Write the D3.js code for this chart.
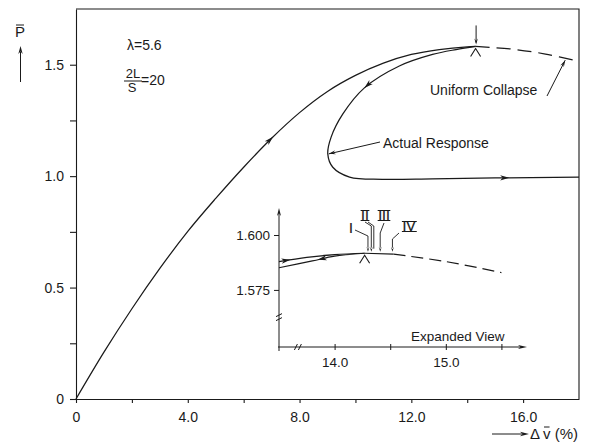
<!DOCTYPE html>
<html>
<head>
<meta charset="utf-8">
<script src="https://cdn.jsdelivr.net/npm/d3@7"></script>
<style>
  body { margin: 0; background: #fff; }
  svg { display: block; }
  text { font-family: "Liberation Sans", Arial, sans-serif; fill: #1a1a1a; }
</style>
</head>
<body>
<svg width="591" height="446"></svg>
<script>
const svg = d3.select('svg');
const width = +svg.attr('width');
const height = +svg.attr('height');
const ink = '#1a1a1a';

// loading branch, origin -> peak
const loadX = [0, 1, 2, 3, 4, 5, 6, 7, 8, 9, 10, 11, 12, 13, 14, 14.3];
const loadY = [0, 0.21, 0.405, 0.586, 0.752, 0.9, 1.04, 1.17, 1.285, 1.38, 1.452, 1.507, 1.546, 1.568, 1.580, 1.582];

// actual response after the peak
const unloadX = [14.3, 13.6, 12.76, 11.57, 10.32, 9.55, 9.13, 9.01, 9.19, 9.79, 10.96, 12.75, 15.0, 18.0];
const unloadY = [1.582, 1.568, 1.546, 1.494, 1.396, 1.279, 1.175, 1.100, 1.040, 0.996, 0.986, 0.988, 0.992, 0.996];

// uniform collapse (dashed)
const collapseX = [14.3, 15.6, 16.8, 18.0];
const collapseY = [1.582, 1.570, 1.548, 1.515];

const xTicks = [0, 2, 4, 6, 8, 10, 12, 14, 16];
const xTickLabels = ['0', '', '4.0', '', '8.0', '', '12.0', '', '16.0'];
const yTicks = [0, 0.25, 0.5, 0.75, 1.0, 1.25, 1.5];
const yTickLabels = ['0', '', '0.5', '', '1.0', '', '1.5'];

// expanded view
const insetLoadX = [13.5, 13.75, 14.0, 14.27];
const insetLoadY = [1.5879, 1.5898, 1.5911, 1.5917];
const insetUnloadX = [14.27, 14.0, 13.8, 13.5];
const insetUnloadY = [1.5917, 1.5904, 1.5882, 1.5851];
const insetFlatX = [14.27, 14.53];
const insetFlatY = [1.5917, 1.5913];
const insetCollapseX = [14.53, 15.0, 15.5];
const insetCollapseY = [1.5913, 1.5879, 1.5829];
const insetXTicks = [14.0, 14.5, 15.0, 15.5];
const insetXTickLabels = ['14.0', '', '15.0', ''];
const insetYTicks = [1.575, 1.600];
const insetYTickLabels = ['1.575', '1.600'];
const stageNames = ['I', 'II', 'III', 'IV'];
const stageX = [14.30, 14.33, 14.41, 14.52];

const zip = (xs, ys) => xs.map((x, i) => [x, ys[i]]);

const margin = { top: 9, right: 12, bottom: 47, left: 76 };
const innerWidth = width - margin.left - margin.right;
const innerHeight = height - margin.top - margin.bottom;

const xScale = d3.scaleLinear().domain([0, 18]).range([margin.left, margin.left + innerWidth]);
const yScale = d3.scaleLinear().domain([0, 1.75]).range([margin.top + innerHeight, margin.top]);

const head = (g, x, y, ang, len = 9, half = 2.6) =>
  g.append('path')
    .attr('d', `M0,0L${-len},${-half}L${-len + 2.5},0L${-len},${half}Z`)
    .attr('transform', `translate(${x},${y}) rotate(${ang})`)
    .attr('fill', ink);

// nearest point on a path to a target pixel, with local direction
const onPath = (node, tx, ty) => {
  const total = node.getTotalLength();
  let best = 0, bd = Infinity;
  for (let l = 0; l <= total; l += 0.5) {
    const p = node.getPointAtLength(l);
    const d = (p.x - tx) ** 2 + (p.y - ty) ** 2;
    if (d < bd) { bd = d; best = l; }
  }
  const p = node.getPointAtLength(best);
  const a = node.getPointAtLength(Math.max(0, best - 3));
  const b = node.getPointAtLength(Math.min(total, best + 3));
  return { x: p.x, y: p.y, ang: Math.atan2(b.y - a.y, b.x - a.x) * 180 / Math.PI };
};

const curveArrow = (g, node, pt) => {
  const p = onPath(node, pt[0], pt[1]);
  head(g, p.x, p.y, p.ang);
};

const styleAxis = (g, size) => {
  g.attr('font-family', null).attr('font-size', null);
  g.selectAll('path, line').attr('stroke', ink).attr('stroke-width', 1.1);
  g.selectAll('text').attr('font-size', size).attr('fill', ink);
  g.selectAll('text').filter(function () { return this.textContent === ''; }).remove();
};

// axes
const xAxis = d3.axisBottom(xScale).tickValues(xTicks)
  .tickFormat((d, i) => xTickLabels[i]).tickSize(4).tickSizeOuter(0).tickPadding(9);
const yAxis = d3.axisLeft(yScale).tickValues(yTicks)
  .tickFormat((d, i) => yTickLabels[i]).tickSize(6).tickSizeOuter(0).tickPadding(6);

styleAxis(svg.append('g').attr('transform', `translate(0,${yScale(0)})`).call(xAxis), 14);
styleAxis(svg.append('g').attr('transform', `translate(${xScale(0)},0)`).call(yAxis), 14);

// frame top and right
svg.append('path')
  .attr('d', `M${xScale(0)},${yScale(1.75)}H${xScale(18)}V${yScale(0)}`)
  .attr('fill', 'none').attr('stroke', ink).attr('stroke-width', 1.1);

const line = d3.line().x(d => xScale(d[0])).y(d => yScale(d[1]))
  .curve(d3.curveCatmullRom.alpha(0.5));
const loadLine = d3.line().x(d => xScale(d[0])).y(d => yScale(d[1]))
  .curve(d3.curveMonotoneX);

const curves = svg.append('g').attr('fill', 'none').attr('stroke', ink).attr('stroke-width', 1.25);
const loadPath = curves.append('path').attr('d', loadLine(zip(loadX, loadY)));
const unloadPath = curves.append('path').attr('d', line(zip(unloadX, unloadY)));
const collapsePath = curves.append('path').attr('d', line(zip(collapseX, collapseY)))
  .attr('stroke-dasharray', '14,7');

const marks = svg.append('g');
curveArrow(marks, loadPath.node(), [xScale(7.05), yScale(1.175)]);
curveArrow(marks, unloadPath.node(), [xScale(10.32), yScale(1.396)]);
curveArrow(marks, unloadPath.node(), [xScale(15.5), yScale(0.993)]);

// peak marker
const px = xScale(loadX[loadX.length - 1]), py = yScale(loadY[loadY.length - 1]);
marks.append('line').attr('x1', px + 0.5).attr('x2', px + 0.5).attr('y1', py - 21).attr('y2', py - 4)
  .attr('stroke', ink).attr('stroke-width', 1);
head(marks, px + 0.5, py - 2, 90, 6, 1.8);
marks.append('path').attr('d', `M${px - 5},${py + 10}L${px},${py + 2}L${px + 5},${py + 10}`)
  .attr('fill', 'none').attr('stroke', ink).attr('stroke-width', 1.1);

// annotations
const ann = svg.append('g');
ann.append('text').attr('x', 127).attr('y', 50).attr('font-size', 14).text('λ=5.6');
ann.append('text').attr('x', 133).attr('y', 78).attr('font-size', 13).attr('text-anchor', 'middle').text('2L');
ann.append('line').attr('x1', 124).attr('x2', 142).attr('y1', 81).attr('y2', 81).attr('stroke', ink);
ann.append('text').attr('x', 132).attr('y', 92).attr('font-size', 13).attr('text-anchor', 'middle').text('S');
ann.append('text').attr('x', 141).attr('y', 85).attr('font-size', 14).text('=20');

ann.append('text').attr('x', 430).attr('y', 95).attr('font-size', 14).text('Uniform Collapse');
const uc = onPath(collapsePath.node(), xScale(17.5), yScale(1.53));
ann.append('line').attr('x1', 547).attr('y1', 96).attr('x2', uc.x).attr('y2', uc.y + 2)
  .attr('stroke', ink).attr('stroke-width', 1);
head(ann, uc.x, uc.y + 2, Math.atan2(uc.y + 2 - 96, uc.x - 547) * 180 / Math.PI, 7, 2);

ann.append('text').attr('x', 383).attr('y', 148).attr('font-size', 14).text('Actual Response');
const ar = onPath(unloadPath.node(), xScale(9.01), yScale(1.10));
ann.append('line').attr('x1', 380).attr('y1', 142).attr('x2', ar.x + 1).attr('y2', ar.y)
  .attr('stroke', ink).attr('stroke-width', 1);
head(ann, ar.x + 1, ar.y, Math.atan2(ar.y - 142, ar.x + 1 - 380) * 180 / Math.PI, 7, 2);

// y title
const pt = ann.append('text').attr('x', 20).attr('y', 37).attr('font-size', 15)
  .attr('text-anchor', 'middle').text('P');
const pb = pt.node().getBBox();
ann.append('line').attr('x1', pb.x + 1).attr('x2', pb.x + pb.width - 1).attr('y1', 25).attr('y2', 25)
  .attr('stroke', ink).attr('stroke-width', 1);
ann.append('line').attr('x1', 20.5).attr('x2', 20.5).attr('y1', 82).attr('y2', 52)
  .attr('stroke', ink).attr('stroke-width', 1);
head(ann, 20.5, 46, -90, 8, 2.2);

// x title
ann.append('line').attr('x1', 492).attr('x2', 522).attr('y1', 434).attr('y2', 434)
  .attr('stroke', ink).attr('stroke-width', 1);
head(ann, 529, 434, 0, 9, 2.2);
const xt = ann.append('text').attr('x', 530).attr('y', 439).attr('font-size', 15).text('Δ\u2009v (%)');
const vb = xt.node().getExtentOfChar(2);
ann.append('line').attr('x1', vb.x + 1).attr('x2', vb.x + vb.width - 1)
  .attr('y1', vb.y + 2).attr('y2', vb.y + 2).attr('stroke', ink).attr('stroke-width', 1);

// ---- inset: expanded view ----
const ix = d3.scaleLinear().domain([13.5, 15.73]).range([279, 527]);
const iy = d3.scaleLinear().domain([1.549, 1.6123]).range([347, 208]);
const inset = svg.append('g');

inset.append('line').attr('x1', ix(13.5)).attr('x2', ix(13.5)).attr('y1', iy(1.549) + 4).attr('y2', iy(1.6123) + 6)
  .attr('stroke', ink).attr('stroke-width', 1);
head(inset, ix(13.5), iy(1.6123), -90, 8, 2);
inset.append('line').attr('x1', ix(13.5) - 1).attr('x2', ix(15.73) - 6).attr('y1', iy(1.549)).attr('y2', iy(1.549))
  .attr('stroke', ink).attr('stroke-width', 1);
head(inset, ix(15.73), iy(1.549), 0, 9, 2);

const igx = inset.append('g').attr('transform', `translate(0,${iy(1.549)})`)
  .call(d3.axisBottom(ix).tickValues(insetXTicks).tickFormat((d, i) => insetXTickLabels[i])
    .tickSize(3).tickPadding(7));
const igy = inset.append('g').attr('transform', `translate(${ix(13.5)},0)`)
  .call(d3.axisLeft(iy).tickValues(insetYTicks).tickFormat((d, i) => insetYTickLabels[i])
    .tickSize(5).tickPadding(4));
[igx, igy].forEach(g => {
  g.select('.domain').remove();
  styleAxis(g, 13.5);
  g.selectAll('line').attr('stroke-width', 1);
});
igx.selectAll('.tick line').attr('y1', -3);

// axis breaks
[-2, 2].forEach(o => inset.append('line')
  .attr('x1', ix(13.67) + o - 1.5).attr('y1', iy(1.549) + 3).attr('x2', ix(13.67) + o + 1.5).attr('y2', iy(1.549) - 3)
  .attr('stroke', ink).attr('stroke-width', 1));
[-2, 2].forEach(o => inset.append('line')
  .attr('x1', ix(13.5) - 3).attr('y1', iy(1.5626) + o + 1.5).attr('x2', ix(13.5) + 3).attr('y2', iy(1.5626) + o - 1.5)
  .attr('stroke', ink).attr('stroke-width', 1));

const iline = d3.line().x(d => ix(d[0])).y(d => iy(d[1])).curve(d3.curveCatmullRom.alpha(0.5));
const icurves = inset.append('g').attr('fill', 'none').attr('stroke', ink).attr('stroke-width', 1.2);
const iLoad = icurves.append('path').attr('d', iline(zip(insetLoadX, insetLoadY)));
const iUnload = icurves.append('path').attr('d', iline(zip(insetUnloadX, insetUnloadY)));
icurves.append('path').attr('d', iline(zip(insetFlatX, insetFlatY)));
icurves.append('path').attr('d', iline(zip(insetCollapseX, insetCollapseY)))
  .attr('stroke-dasharray', '12,6');
curveArrow(inset, iLoad.node(), [ix(13.6), iy(1.5887)]);
curveArrow(inset, iUnload.node(), [ix(13.85), iy(1.5886)]);

// inset peak marker
const ipx = ix(insetLoadX[insetLoadX.length - 1]), ipy = iy(insetLoadY[insetLoadY.length - 1]);
inset.append('path').attr('d', `M${ipx - 5},${ipy + 10}L${ipx},${ipy + 2}L${ipx + 5},${ipy + 10}`)
  .attr('fill', 'none').attr('stroke', ink).attr('stroke-width', 1.1);

// stage arrows I..IV : label anchor, leader start, knee height
const stageLabelPos = [[351, 233], [365, 220], [384, 220], [409, 231]];
const stageLead = [[355, 230, 236], [365, 222, 226], [384, 223, 233], [399, 233, 239]];
const stages = inset.append('g');
stageNames.forEach((s, i) => {
  const sx = ix(stageX[i]);
  const sy = iy(1.5915) - 2;
  const [lx, ly] = stageLabelPos[i];
  const [ax, ay, ky] = stageLead[i];
  stages.append('path').attr('d', `M${ax},${ay}L${sx},${ky}V${sy - 4}`)
    .attr('fill', 'none').attr('stroke', ink).attr('stroke-width', 0.9);
  if (s === 'II') {
    stages.append('path').attr('d', `M${ax + 3},${ay}L${sx + 2.5},${ky}V${sy - 3}`)
      .attr('fill', 'none').attr('stroke', ink).attr('stroke-width', 0.9);
  }
  head(stages, sx, sy, 90, 5, 1.5);
  const t = stages.append('text').attr('x', lx).attr('y', ly)
    .attr('text-anchor', 'middle')
    .attr('font-family', '"Liberation Serif", serif').attr('font-size', 14)
    .attr('fill', '#000').attr('stroke', '#000').attr('stroke-width', 0.2)
    .attr('transform', `rotate(0.01 ${lx} ${ly})`)
    .text(s);
  if (s.length > 1) {
    const b = t.node().getBBox();
    [ly - 9.5, ly + 0.5].forEach(yy => stages.append('line')
      .attr('x1', b.x - 0.5).attr('x2', b.x + b.width + 0.5).attr('y1', yy).attr('y2', yy)
      .attr('stroke', ink).attr('stroke-width', 1));
  }
});

inset.append('text').attr('x', 411).attr('y', 341).attr('font-size', 13.5).text('Expanded View');
</script>
</body>
</html>
